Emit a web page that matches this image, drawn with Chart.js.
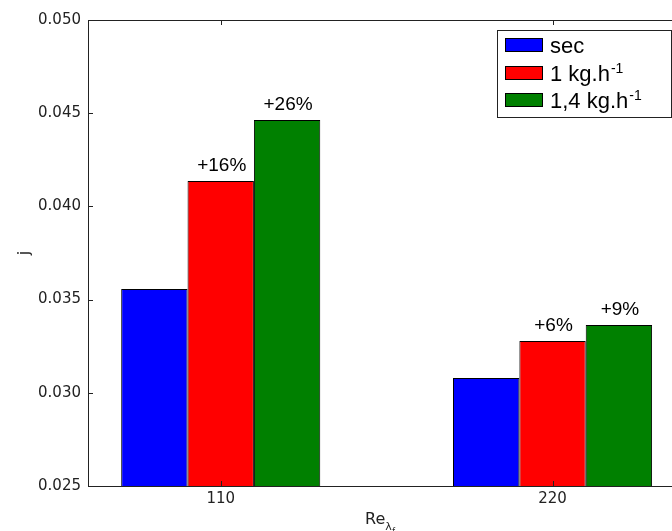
<!DOCTYPE html>
<html>
<head>
<meta charset="utf-8">
<script src="https://cdn.jsdelivr.net/npm/chart.js@4.4.0/dist/chart.umd.min.js"></script>
<style>
  html, body { margin: 0; padding: 0; background: #fff; }
  #wrap { width: 672px; height: 531px; overflow: hidden; }
</style>
</head>
<body>
<div id="wrap"><canvas id="chart" width="672" height="531"></canvas></div>
<script>
// data
const categories = ['110', '220'];
const seriesNames = ['sec', '1 kg.h^-1', '1,4 kg.h^-1'];
const seriesColors = ['#0000ff', '#ff0000', '#008000'];
const secValues = [0.03557, 0.03079];
const oneKgValues = [0.04136, 0.03278];
const onePointFourValues = [0.04464, 0.03364];
const gainLabels = [[], ['+16%', '+6%'], ['+26%', '+9%']];
const yTicks = [0.025, 0.030, 0.035, 0.040, 0.045, 0.050];

const AXIS = '#222';

// axes frame + inward tick marks (matplotlib style)
const framePlugin = {
    id: 'frame',
    afterDatasetsDraw(chart) {
        const ctx = chart.ctx;
        const a = chart.chartArea;
        const x = chart.scales.x, y = chart.scales.y;
        ctx.save();
        ctx.strokeStyle = AXIS;
        ctx.lineWidth = 1;
        ctx.beginPath();
        ctx.moveTo(a.left + 0.5, a.top);
        ctx.lineTo(a.left + 0.5, a.bottom + 1);
        ctx.moveTo(a.left, a.top + 0.5);
        ctx.lineTo(a.right, a.top + 0.5);
        ctx.moveTo(a.left, a.bottom + 0.5);
        ctx.lineTo(a.right, a.bottom + 0.5);
        y.ticks.forEach(t => {
            const py = Math.round(y.getPixelForValue(t.value)) + 0.5;
            ctx.moveTo(a.left, py);
            ctx.lineTo(a.left + 5, py);
        });
        x.ticks.forEach(t => {
            const px = Math.round(x.getPixelForValue(t.value)) + 0.5;
            ctx.moveTo(px, a.bottom);
            ctx.lineTo(px, a.bottom - 5);
            ctx.moveTo(px, a.top);
            ctx.lineTo(px, a.top + 5);
        });
        ctx.stroke();
        ctx.restore();
    }
};

// percent labels above the bars
const gainPlugin = {
    id: 'gains',
    afterDatasetsDraw(chart) {
        const ctx = chart.ctx;
        ctx.save();
        ctx.font = '19px "Liberation Sans", Arial, sans-serif';
        ctx.fillStyle = '#000';
        ctx.textAlign = 'center';
        ctx.textBaseline = 'alphabetic';
        gainLabels.forEach((labels, d) => {
            const meta = chart.getDatasetMeta(d);
            labels.forEach((txt, i) => {
                const bar = meta.data[i];
                if (txt && bar) ctx.fillText(txt, bar.x + 1, bar.y - 10);
            });
        });
        ctx.restore();
    }
};

// x title with subscript and the boxed legend
const extrasPlugin = {
    id: 'extras',
    afterDraw(chart) {
        const ctx = chart.ctx;
        ctx.save();
        // x axis title "Re" with subscript lambda_f
        ctx.fillStyle = '#222';
        ctx.textBaseline = 'alphabetic';
        ctx.font = '16px "DejaVu Sans", sans-serif';
        ctx.fillText('Re', 365, 524);
        const w = ctx.measureText('Re').width;
        ctx.font = '11px "DejaVu Sans", sans-serif';
        ctx.fillText('\u03bb', 365 + w, 530);
        ctx.font = '8px "DejaVu Sans", sans-serif';
        ctx.fillText('f', 365 + w + 7, 534);

        // legend
        const bx = 497.5, by = 30.5, bw = 174, bh = 87;
        ctx.fillStyle = '#fff';
        ctx.fillRect(bx, by, bw, bh);
        ctx.strokeStyle = AXIS;
        ctx.lineWidth = 1;
        ctx.strokeRect(bx, by, bw, bh);
        const rows = [45, 73, 100];
        chart.data.datasets.forEach((ds, i) => {
            const ry = rows[i];
            ctx.fillStyle = ds.backgroundColor;
            ctx.fillRect(505, ry - 7, 38, 14);
            ctx.strokeStyle = '#000';
            ctx.strokeRect(505.5, ry - 6.5, 37, 13);
            const parts = ds.label.split('^');
            ctx.fillStyle = '#000';
            ctx.font = '22px "Liberation Sans", Arial, sans-serif';
            ctx.fillText(parts[0], 550, ry + 8);
            if (parts[1]) {
                const tw = ctx.measureText(parts[0]).width;
                ctx.font = '14px "Liberation Sans", Arial, sans-serif';
                ctx.fillText(parts[1], 550 + tw + 1, ry);
            }
        });
        ctx.restore();
    }
};

const seriesValues = [secValues, oneKgValues, onePointFourValues];

new Chart(document.getElementById('chart'), {
    type: 'bar',
    data: {
        datasets: seriesValues.map((vals, s) => ({
            label: seriesNames[s],
            data: vals.map((v, i) => ({ x: i, y: v })),
            backgroundColor: seriesColors[s],
            borderColor: '#000',
            borderWidth: 1,
            categoryPercentage: 0.6,
            barPercentage: 1.0
        }))
    },
    options: {
        responsive: false,
        animation: false,
        devicePixelRatio: 1,
        layout: { padding: { top: 20, right: 0, left: 0, bottom: 0 } },
        plugins: {
            legend: { display: false },
            tooltip: { enabled: false }
        },
        scales: {
            x: {
                type: 'linear',
                min: -0.4,
                max: 1.36,
                offset: false,
                grid: { display: false, drawTicks: false },
                border: { display: false },
                afterBuildTicks: s => { s.ticks = categories.map((c, i) => ({ value: i })); },
                afterFit: s => { s.height = 45; },
                ticks: {
                    padding: 4,
                    color: '#222',
                    font: { family: '"DejaVu Sans", sans-serif', size: 15 },
                    callback: v => categories[v]
                }
            },
            y: {
                min: 0.025,
                max: 0.050,
                grid: { display: false, drawTicks: false },
                border: { display: false },
                afterBuildTicks: s => { s.ticks = yTicks.map(v => ({ value: v })); },
                afterFit: s => { s.width = 88; },
                title: {
                    display: true,
                    text: 'j',
                    color: '#222',
                    padding: { top: 15, bottom: 0 },
                    font: { family: '"DejaVu Sans", sans-serif', size: 16 }
                },
                ticks: {
                    padding: 7,
                    color: '#222',
                    font: { family: '"DejaVu Sans", sans-serif', size: 15 },
                    callback: v => v.toFixed(3)
                }
            }
        }
    },
    plugins: [framePlugin, gainPlugin, extrasPlugin]
});
</script>
</body>
</html>
